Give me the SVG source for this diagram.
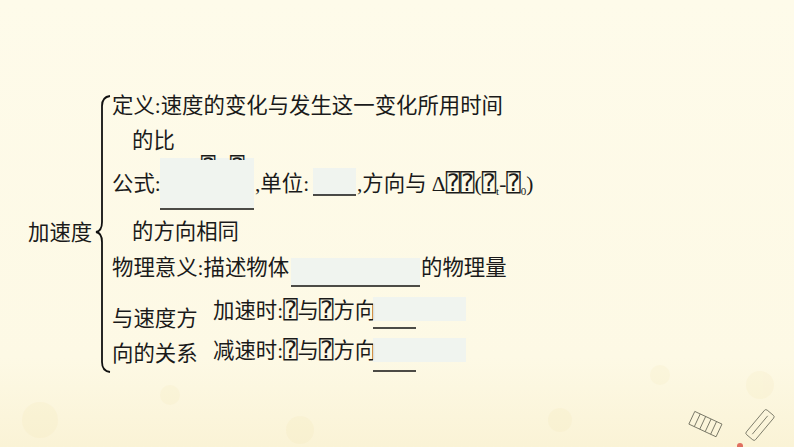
<svg xmlns="http://www.w3.org/2000/svg" width="794" height="447" viewBox="0 0 794 447">
<style>
.t{font-family:"Liberation Serif","Noto Sans CJK SC",serif;font-size:21.4px;fill:#1a1a1a}
.s{font-family:"DejaVu Sans Mono","DejaVu Sans",monospace;font-size:24px;fill:#1a1a1a}
.sub{font-family:"Liberation Serif",serif;font-size:11px}
.box{fill:#eef3f0;opacity:0.9}
.ul{stroke:#111;stroke-width:1.6}
</style>
<defs>
<linearGradient id="bg" x1="0" y1="0" x2="0" y2="1">
<stop offset="0" stop-color="#fefbea"/>
<stop offset="0.8" stop-color="#fdf9e5"/>
<stop offset="1" stop-color="#faf3d6"/>
</linearGradient>
<clipPath id="numclip"><rect x="195" y="154" width="70" height="6"/></clipPath>
</defs>
<rect width="794" height="447" fill="url(#bg)"/>
<g opacity="0.1" fill="#f0dc98">
<circle cx="40" cy="420" r="18"/><circle cx="170" cy="395" r="10"/><circle cx="300" cy="430" r="14"/>
<circle cx="560" cy="420" r="12"/><circle cx="660" cy="375" r="10"/><circle cx="760" cy="385" r="14"/>
</g>
<g id="deco" fill="none" stroke="#6a6a5a" stroke-width="0.8">
<g transform="translate(705,425) rotate(25)">
<rect x="-15" y="-8" width="30" height="14"/>
<line x1="-9" y1="-8" x2="-9" y2="6"/><line x1="-3" y1="-8" x2="-3" y2="6"/><line x1="3" y1="-8" x2="3" y2="6"/><line x1="9" y1="-8" x2="9" y2="6"/>
</g>
<g transform="translate(760,425) rotate(-50)">
<rect x="-16" y="-6" width="32" height="12" rx="2"/>
<line x1="-12" y1="0" x2="12" y2="0"/>
</g>
<circle cx="740" cy="446" r="3" fill="#e07060" stroke="none"/>
</g>
<g id="root">
<text class="t" x="28" y="240">加速度</text>
</g>
<g id="connectors">
<path d="M110,96 Q102,97 102,106 L102,222 Q102,231 96,232 Q102,233 102,242 L102,362 Q102,371 110,372" fill="none" stroke="#111" stroke-width="1.8"/>
</g>
<g id="node-definition">
<text class="t" x="112" y="113">定义:速度的变化与发生这一变化所用时间</text>
<text class="t" x="132" y="148">的比</text>
</g>
<g id="node-formula">
<rect class="box" x="160" y="158" width="94" height="50"/>
<line class="ul" x1="160" y1="209" x2="254" y2="209"/>
<text class="s" x="201" y="175" clip-path="url(#numclip)">⍰ ⍰</text>
<text class="t" x="112" y="191">公式:</text>
<text class="t" x="255" y="191">,单位:</text>
<rect class="box" x="313" y="168" width="43" height="27"/>
<line class="ul" x1="313" y1="195" x2="356" y2="195"/>
<text class="t" x="357" y="191">,方向与 Δ<tspan class="s">⍰⍰</tspan>(<tspan class="s">⍰</tspan><tspan class="sub" dy="4">t</tspan><tspan dy="-4">-</tspan><tspan class="s">⍰</tspan><tspan class="sub" dy="4">0</tspan><tspan dy="-4">)</tspan></text>
<text class="t" x="132" y="239">的方向相同</text>
</g>
<g id="node-meaning">
<text class="t" x="112" y="275">物理意义:描述物体</text>
<rect class="box" x="291" y="258" width="129" height="27"/>
<line class="ul" x1="291" y1="286" x2="420" y2="286"/>
<text class="t" x="421" y="275">的物理量</text>
</g>
<g id="node-relation">
<text class="t" x="112" y="326">与速度方</text>
<text class="t" x="112" y="361">向的关系</text>
</g>
<g id="node-accelerate">
<text class="t" x="213" y="318">加速时:<tspan class="s">⍰</tspan>与<tspan class="s">⍰</tspan>方向</text>
<rect class="box" x="373" y="297" width="93" height="24"/>
<line class="ul" x1="373" y1="328" x2="416" y2="328"/>
</g>
<g id="node-decelerate">
<text class="t" x="213" y="358">减速时:<tspan class="s">⍰</tspan>与<tspan class="s">⍰</tspan>方向</text>
<rect class="box" x="373" y="338" width="93" height="24"/>
<line class="ul" x1="373" y1="371" x2="416" y2="371"/>
</g>
</svg>
